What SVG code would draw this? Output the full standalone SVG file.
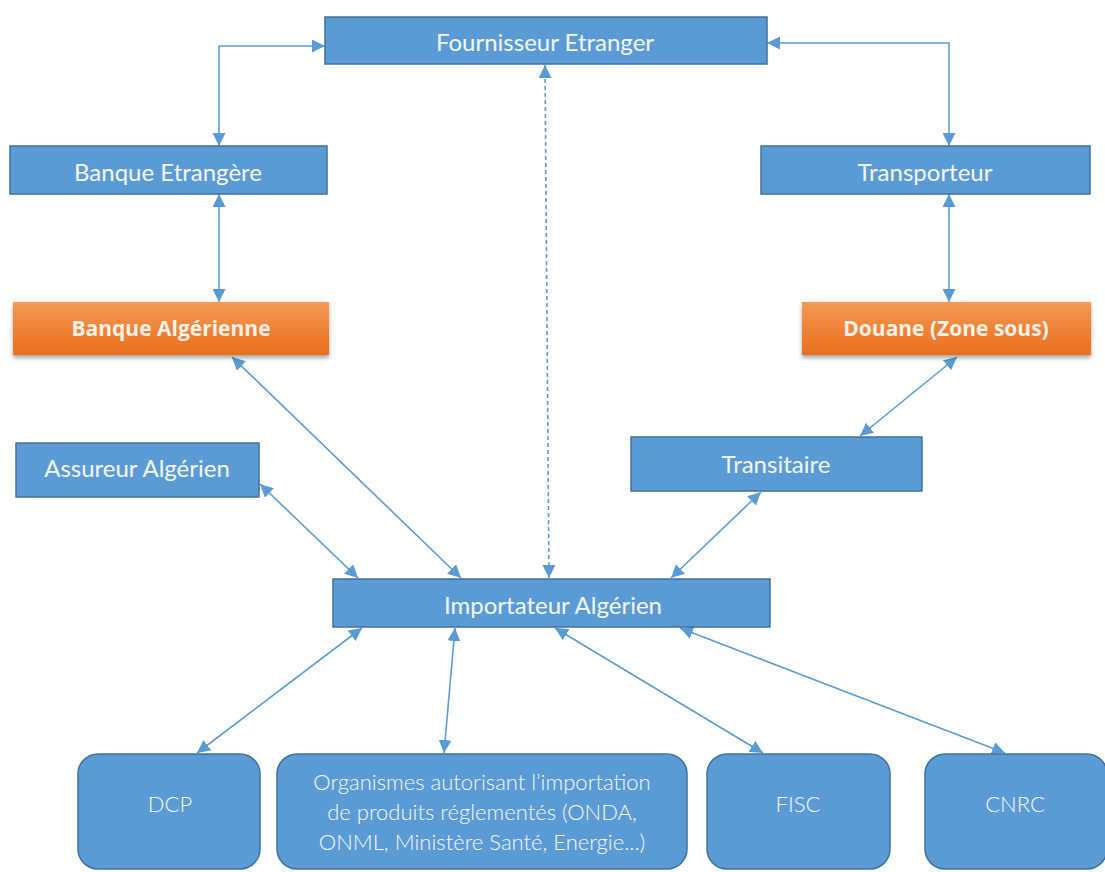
<svg xmlns="http://www.w3.org/2000/svg" width="1105" height="872" viewBox="0 0 1105 872">
<style>
.box{fill:#5b9bd5;stroke:#41719c;stroke-width:1.5}
.obox{fill:url(#og);stroke:none;filter:url(#sh)}
.t{font-family:Lato,"Open Sans","Liberation Sans",sans-serif;font-size:24px;fill:#f4f6f9;text-anchor:middle}
.tb{font-family:"Open Sans","Liberation Sans",sans-serif;font-weight:bold;font-size:21px;fill:#fbf1e6;text-anchor:middle}
.tl{font-family:Lato,"Open Sans","Liberation Sans",sans-serif;font-weight:300;font-size:22px;fill:#f7f9fc;text-anchor:middle}
.c{fill:none;stroke:#5b9bd5;stroke-width:1.6;marker-start:url(#ah);marker-end:url(#ah)}
.d{stroke-dasharray:4 3}
</style>
<defs>
<linearGradient id="og" x1="0" y1="0" x2="0" y2="1">
<stop offset="0" stop-color="#f49a55"/>
<stop offset="1" stop-color="#e96e1c"/>
</linearGradient>
<filter id="sh" x="-5%" y="-20%" width="110%" height="150%">
<feDropShadow dx="0" dy="3" stdDeviation="2" flood-color="#000" flood-opacity="0.35"/>
</filter>
<marker id="ah" viewBox="0 0 10 10" refX="10" refY="5" markerWidth="13" markerHeight="13" markerUnits="userSpaceOnUse" orient="auto-start-reverse">
<path d="M0,0 L10,5 L0,10 z" fill="#5b9bd5"/>
</marker>
</defs>
<rect width="1105" height="872" fill="#ffffff"/>
<g id="connectors">
<path class="c" d="M219,146 L219,46 L325,46"/>
<path class="c" d="M949,146 L949,43 L767,43"/>
<path class="c" d="M219,194 L219,302"/>
<path class="c" d="M949,194 L949,302"/>
<path class="c d" d="M545,65 L549,578"/>
<path class="c" d="M232,357 L461,578"/>
<path class="c" d="M260,484 L358,578"/>
<path class="c" d="M957,357 L860,436"/>
<path class="c" d="M761,492 L671,578"/>
<path class="c" d="M362,628 L197,753"/>
<path class="c" d="M455,628 L444,753"/>
<path class="c" d="M555,628 L763,753"/>
<path class="c" d="M680,628 L1005,753"/>
</g>
<g id="fournisseur"><rect class="box" x="325" y="17" width="442" height="47"/><text class="t" x="545" y="51">Fournisseur Etranger</text></g>
<g id="banque-etrangere"><rect class="box" x="10" y="146" width="317" height="48"/><text class="t" x="168" y="181">Banque Etrangère</text></g>
<g id="transporteur"><rect class="box" x="761" y="146" width="329" height="48"/><text class="t" x="925" y="181">Transporteur</text></g>
<g id="banque-algerienne"><rect class="obox" x="13" y="302" width="316" height="53"/><text class="tb" x="171" y="336">Banque Algérienne</text></g>
<g id="douane"><rect class="obox" x="802" y="302" width="289" height="53"/><text class="tb" x="946" y="336">Douane (Zone sous)</text></g>
<g id="assureur"><rect class="box" x="16" y="443" width="243" height="54"/><text class="t" x="137" y="477">Assureur Algérien</text></g>
<g id="transitaire"><rect class="box" x="631" y="437" width="291" height="54"/><text class="t" x="776" y="473">Transitaire</text></g>
<g id="importateur"><rect class="box" x="333" y="579" width="437" height="48"/><text class="t" x="553" y="614">Importateur Algérien</text></g>
<g id="dcp"><rect class="box" x="78" y="754" width="182" height="115" rx="20"/><text class="tl" x="170" y="812">DCP</text></g>
<g id="organismes"><rect class="box" x="277" y="754" width="410" height="115" rx="20"/>
<text class="tl" x="482" y="790">Organismes autorisant l’importation</text>
<text class="tl" x="482" y="820">de produits réglementés (ONDA,</text>
<text class="tl" x="482" y="850">ONML, Ministère Santé, Energie...)</text></g>
<g id="fisc"><rect class="box" x="707" y="754" width="183" height="115" rx="20"/><text class="tl" x="798" y="812">FISC</text></g>
<g id="cnrc"><rect class="box" x="925" y="754" width="182" height="115" rx="20"/><text class="tl" x="1015" y="812">CNRC</text></g>
</svg>
